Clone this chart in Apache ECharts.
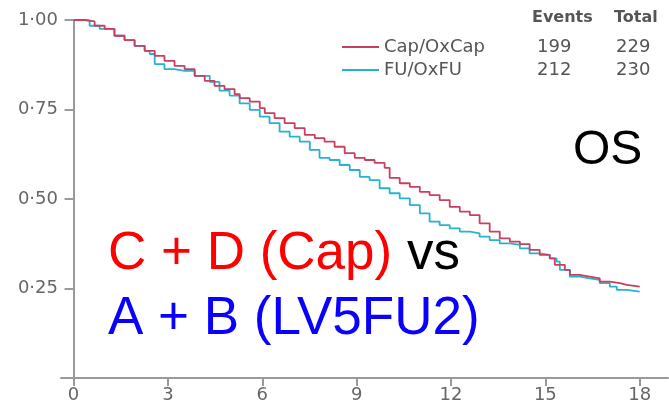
<!DOCTYPE html>
<html>
<head>
<meta charset="utf-8">
<script src="https://cdn.jsdelivr.net/npm/echarts@6/dist/echarts.min.js"></script>
<style>
  html, body { margin: 0; padding: 0; background: #fff; }
  #chart { width: 669px; height: 406px; }
</style>
</head>
<body>
<div id="chart"></div>
<script>
// Kaplan-Meier curves, months vs survival
var monthsCap = [0, 0.35, 0.67, 0.99, 1.30, 1.62, 1.94, 2.26, 2.58, 2.89, 3.21, 3.53, 3.85, 4.17, 4.48, 4.80, 5.12, 5.28, 5.60, 5.92, 6.08, 6.39, 6.71, 7.03, 7.35, 7.67, 7.98, 8.30, 8.62, 8.94, 9.26, 9.57, 9.89, 10.05, 10.37, 10.69, 11.01, 11.32, 11.64, 11.96, 12.28, 12.60, 12.91, 13.23, 13.55, 13.87, 14.19, 14.50, 14.82, 15.14, 15.30, 15.62, 15.78, 16.09, 16.41, 16.73, 17.05, 17.37, 17.59, 18.0];
var survCap = [1.0, 0.996, 0.984, 0.975, 0.956, 0.944, 0.928, 0.914, 0.900, 0.886, 0.872, 0.863, 0.844, 0.830, 0.816, 0.807, 0.793, 0.782, 0.772, 0.754, 0.740, 0.726, 0.712, 0.698, 0.679, 0.670, 0.660, 0.646, 0.628, 0.615, 0.609, 0.601, 0.587, 0.559, 0.544, 0.534, 0.520, 0.511, 0.497, 0.478, 0.465, 0.455, 0.432, 0.409, 0.390, 0.381, 0.374, 0.358, 0.344, 0.334, 0.316, 0.302, 0.288, 0.283, 0.278, 0.269, 0.265, 0.260, 0.255, 0.255];

var monthsFu = [0, 0.40, 0.51, 0.83, 1.30, 1.62, 1.94, 2.26, 2.42, 2.58, 2.89, 3.21, 3.53, 3.85, 4.33, 4.64, 4.96, 5.28, 5.60, 5.92, 6.23, 6.55, 6.87, 7.19, 7.51, 7.82, 8.14, 8.46, 8.78, 9.10, 9.41, 9.73, 10.05, 10.37, 10.69, 11.01, 11.32, 11.64, 11.96, 12.28, 12.60, 12.91, 13.23, 13.55, 13.87, 14.19, 14.50, 14.82, 15.14, 15.36, 15.46, 15.78, 16.09, 16.41, 16.73, 17.05, 17.27, 17.59, 18.0];
var survFu = [1.0, 0.998, 0.984, 0.975, 0.956, 0.944, 0.928, 0.914, 0.905, 0.877, 0.863, 0.858, 0.858, 0.844, 0.827, 0.803, 0.789, 0.767, 0.749, 0.730, 0.712, 0.688, 0.674, 0.660, 0.637, 0.615, 0.609, 0.595, 0.581, 0.562, 0.553, 0.530, 0.516, 0.502, 0.483, 0.460, 0.437, 0.427, 0.418, 0.409, 0.404, 0.395, 0.385, 0.376, 0.372, 0.362, 0.348, 0.344, 0.334, 0.325, 0.302, 0.283, 0.278, 0.274, 0.265, 0.255, 0.246, 0.241, 0.241];

var groupNames = ['Cap/OxCap', 'FU/OxFU'];
var events = [199, 212];
var totals = [229, 230];
var xTicks = [0, 3, 6, 9, 12, 15, 18];
var yTicks = [0.25, 0.5, 0.75, 1.0];

function zip(xs, ys) {
    var out = [];
    xs.forEach(function (x, i) { out.push([x, ys[i]]); });
    return out;
}

var axisGrey = '#9a9a9a';
var labelGrey = '#666';

var chart = echarts.init(document.getElementById('chart'));
chart.setOption({
    animation: false,
    grid: { left: 61, right: 1, top: 20, bottom: 28, outerBoundsMode: 'none' },
    legend: {
        orient: 'vertical',
        left: 337,
        top: 33,
        itemWidth: 37,
        itemHeight: 2,
        itemGap: 5,
        icon: 'rect',
        data: groupNames,
        formatter: function (name) {
            var i = groupNames.indexOf(name);
            return '{n|' + name + '}{e|' + events[i] + '}{t|' + totals[i] + '}';
        },
        textStyle: {
            fontFamily: 'DejaVu Sans',
            fontSize: 18,
            color: '#555',
            lineHeight: 18,
            rich: {
                n: { width: 153, fontFamily: 'DejaVu Sans', fontSize: 18, color: '#555' },
                e: { width: 79, fontFamily: 'DejaVu Sans', fontSize: 18, color: '#555' },
                t: { fontFamily: 'DejaVu Sans', fontSize: 18, color: '#555' }
            }
        }
    },
    xAxis: {
        type: 'value',
        min: -0.4,
        max: 18.9,
        splitLine: { show: false },
        axisLine: { lineStyle: { color: axisGrey, width: 2 } },
        axisTick: { show: true, length: 8, customValues: xTicks, lineStyle: { color: axisGrey, width: 2 } },
        axisLabel: {
            customValues: xTicks,
            margin: 8,
            fontFamily: 'DejaVu Sans',
            fontSize: 18,
            color: labelGrey
        }
    },
    yAxis: {
        type: 'value',
        min: 0,
        max: 1,
        splitLine: { show: false },
        axisLine: { show: true, onZero: true, lineStyle: { color: axisGrey, width: 2 } },
        axisTick: { show: true, length: 9, customValues: yTicks, lineStyle: { color: axisGrey, width: 2 } },
        axisLabel: {
            customValues: yTicks,
            margin: 3,
            fontFamily: 'DejaVu Sans',
            fontSize: 18,
            color: labelGrey,
            formatter: function (v) { return v.toFixed(2).replace('.', '\u00b7'); }
        }
    },
    series: [
        {
            name: groupNames[0],
            type: 'line',
            step: 'end',
            showSymbol: false,
            color: '#c8405f',
            lineStyle: { width: 1.8 },
            data: zip(monthsCap, survCap),
            z: 3
        },
        {
            name: groupNames[1],
            type: 'line',
            step: 'end',
            showSymbol: false,
            color: '#27b2cf',
            lineStyle: { width: 1.8 },
            data: zip(monthsFu, survFu),
            z: 2
        }
    ],
    graphic: [
        {
            type: 'text', left: 532, top: 10,
            style: { text: 'Events', font: 'bold 16px "DejaVu Sans"', fill: '#555' }
        },
        {
            type: 'text', left: 614, top: 10,
            style: { text: 'Total', font: 'bold 16px "DejaVu Sans"', fill: '#555' }
        },
        {
            type: 'text', left: 573, top: 127,
            style: { text: 'OS', font: '48px "Liberation Sans"', fill: '#000' }
        },
        {
            type: 'text', left: 108, top: 228,
            style: {
                text: '{r|C + D (Cap)} {k|vs}',
                font: '53px "Liberation Sans"',
                rich: {
                    r: { fill: '#ff0000', font: '53px "Liberation Sans"' },
                    k: { fill: '#000000', font: '53px "Liberation Sans"' }
                }
            }
        },
        {
            type: 'text', left: 108, top: 293,
            style: { text: 'A + B (LV5FU2)', font: '53px "Liberation Sans"', fill: '#0a00ff' }
        }
    ]
});
</script>
</body>
</html>
